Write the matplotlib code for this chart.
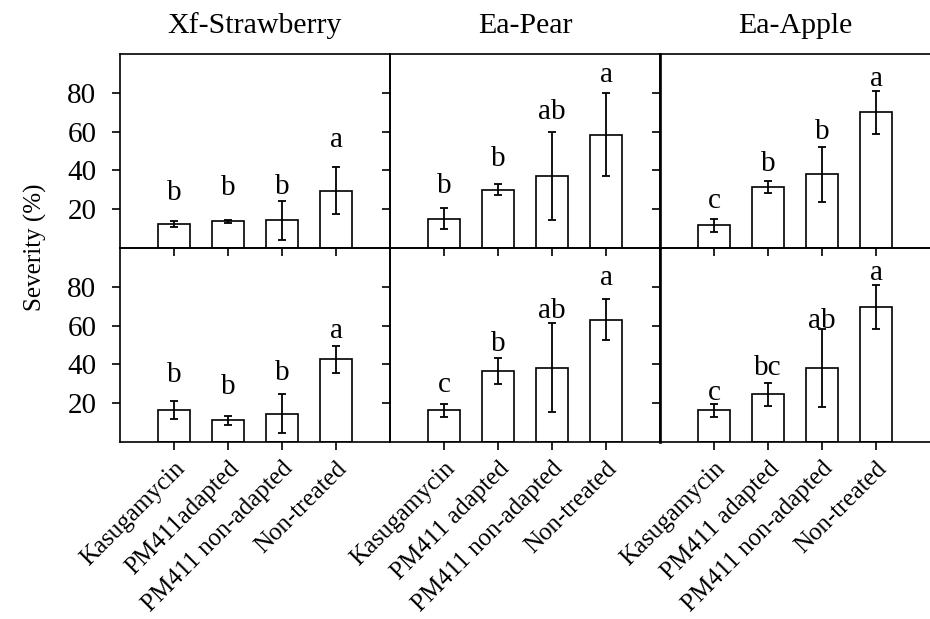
import matplotlib
matplotlib.use("Agg")
import matplotlib.pyplot as plt
import numpy as np

plt.rcParams['font.family'] = ['Liberation Serif', 'DejaVu Serif']

treatments = ["Kasugamycin", "PM411 adapted", "PM411 non-adapted", "Non-treated"]
treatments_strawberry = ["Kasugamycin", "PM411adapted", "PM411 non-adapted", "Non-treated"]
titles = ["Xf-Strawberry", "Ea-Pear", "Ea-Apple"]

# top row
top_means = [[12.3, 13.8, 14.2, 29.6],
             [15.2, 30.1, 36.9, 58.3],
             [11.6, 31.6, 38.1, 69.9]]
top_err = [[1.7, 0.8, 10.0, 12.0],
           [5.5, 2.9, 22.7, 21.4],
           [3.4, 3.1, 14.2, 11.2]]
top_letters = [["b", "b", "b", "a"],
               ["b", "b", "ab", "a"],
               ["c", "b", "b", "a"]]
top_letter_y = [[24.7, 27.3, 28.0, 52.0],
                [28.5, 42.2, 66.7, 85.4],
                [20.5, 39.8, 56.0, 83.4]]

# bottom row
bot_means = [[16.3, 11.2, 14.6, 42.6],
             [16.3, 36.6, 38.4, 63.1],
             [16.3, 24.6, 38.0, 69.6]]
bot_err = [[4.7, 2.2, 9.9, 6.8],
           [3.3, 6.5, 23.0, 10.6],
           [3.4, 5.8, 20.0, 11.5]]
bot_letters = [["b", "b", "b", "a"],
               ["c", "b", "ab", "a"],
               ["c", "bc", "ab", "a"]]
bot_letter_y = [[30.9, 24.9, 32.2, 53.6],
                [25.8, 46.9, 64.1, 81.1],
                [21.5, 34.7, 59.0, 83.7]]

yticks = [20, 40, 60, 80]

W, H = 930, 619
fig = plt.figure(figsize=(W / 100, H / 100), dpi=100)

left0 = 120
pw = 270
row_tops = [54, 248]
row_bots = [248, 442]

x = np.arange(1, 5)
lw = 1.2
fs_letter = 21
fs_tick = 21

for r in range(2):
    means = top_means if r == 0 else bot_means
    errs = top_err if r == 0 else bot_err
    letters = top_letters if r == 0 else bot_letters
    ly = top_letter_y if r == 0 else bot_letter_y
    for c in range(3):
        ax = fig.add_axes([(left0 + c * pw) / W, 1 - row_bots[r] / H,
                           pw / W, (row_bots[r] - row_tops[r]) / H])
        ax.set_facecolor('none')
        ax.bar(x, means[c], width=0.6, color='white', edgecolor='black',
               linewidth=lw, zorder=2)
        ax.errorbar(x, means[c], yerr=errs[c], fmt='none', ecolor='black',
                    elinewidth=1.3, capsize=2.6, capthick=1.3, zorder=3)
        for xi, t, yy in zip(x, letters[c], ly[c]):
            ax.text(xi, yy, t, ha='center', va='baseline', fontsize=fs_letter)
        ax.set_xlim(0, 5)
        ax.set_ylim(0, 100)
        ax.set_yticks(yticks)
        ax.set_xticks(x)
        ax.tick_params(axis='y', direction='out', length=6, width=lw,
                       labelsize=fs_tick, pad=11)
        ax.tick_params(axis='x', direction='out', length=6, width=lw)
        if c > 0:
            ax.set_yticklabels([])
        if r == 0:
            ax.set_xticklabels([])
            ax.set_title(titles[c], fontsize=21.5, pad=15)
        else:
            labs = treatments_strawberry if c == 0 else treatments
            ax.set_xticklabels(labs, rotation=45, ha='right', va='top',
                               rotation_mode='anchor', fontsize=18)
            ax.tick_params(axis='x', pad=5)
        for s in ax.spines.values():
            s.set_linewidth(lw)
        if c == 2:
            ax.spines['right'].set_visible(False)
            ax.spines['left'].set_linewidth(1.9)

fig.text(35 / W, 1 - 247 / H, "Severity (%)", rotation=90, ha='center',
         va='center', fontsize=18)

fig.savefig("out.png", dpi=100)
